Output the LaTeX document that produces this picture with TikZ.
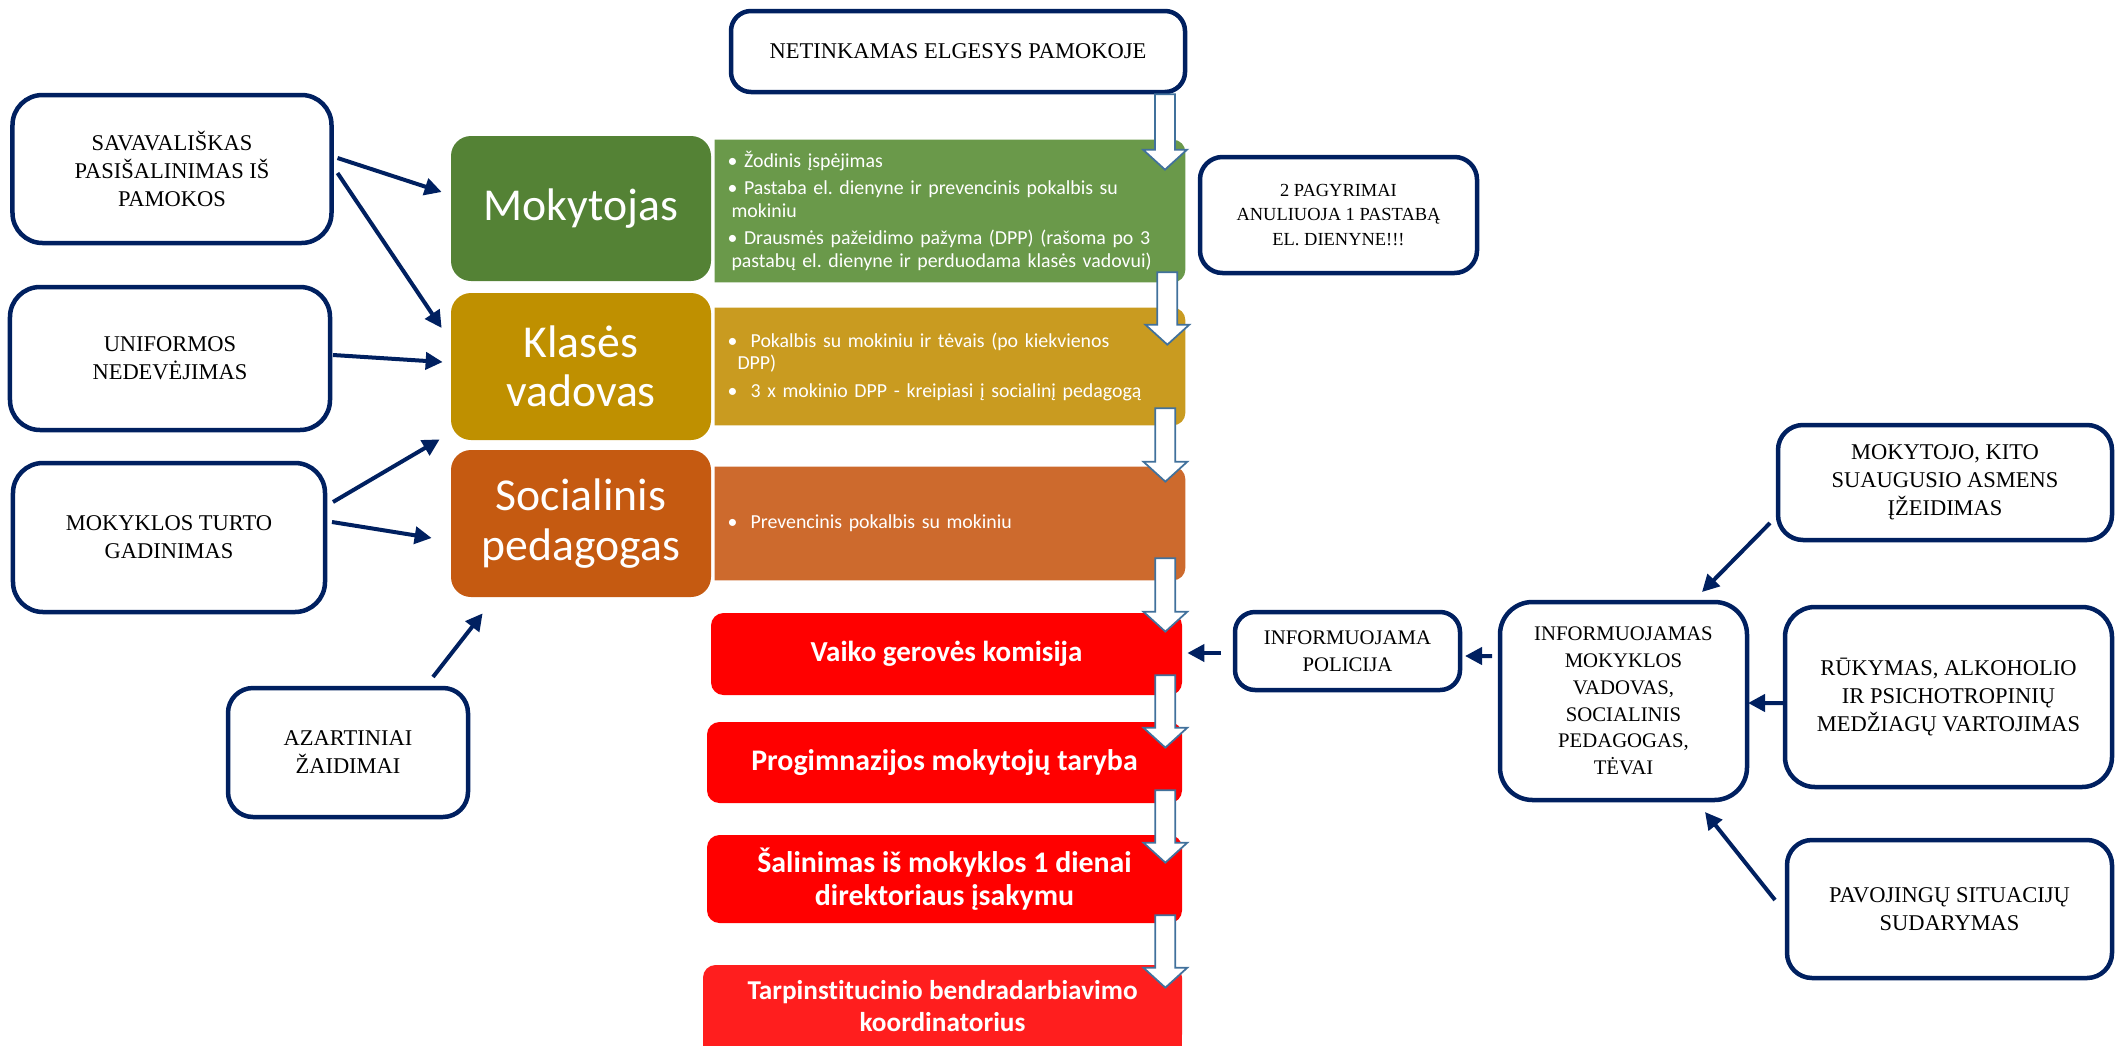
\documentclass[tikz,border=0pt]{standalone}
\usepackage{fontspec}
\setmainfont{Liberation Serif}
\newfontfamily\carlito[Ligatures=NoCommon]{Carlito}
\usetikzlibrary{calc,arrows.meta,backgrounds}
\definecolor{navy}{RGB}{0,32,96}
\definecolor{mokgreen}{RGB}{84,130,53}
\definecolor{mokpanel}{RGB}{106,153,74}
\definecolor{klasgold}{RGB}{191,144,0}
\definecolor{klaspanel}{RGB}{201,155,32}
\definecolor{socorange}{RGB}{197,90,17}
\definecolor{socpanel}{RGB}{205,106,45}
\definecolor{stepred}{RGB}{255,0,0}
\definecolor{lastred}{RGB}{255,30,30}
\definecolor{arrline}{RGB}{65,113,156}
\newcommand\rightpanel[2]{\fill[#2] (#1.north west) -- ([xshift=-2.5mm]#1.north east)
  arc[start angle=90,end angle=0,radius=2.5mm] -- ([yshift=2.5mm]#1.south east)
  arc[start angle=0,end angle=-90,radius=2.5mm] -- (#1.south west) -- cycle;}
\begin{document}
\begin{tikzpicture}[x=0.2mm,y=-0.2mm,
    navybox/.style={draw=navy,line width=0.9mm,rounded corners=5mm,fill=white,align=center,
      inner sep=1mm,font=\fontsize{12.8}{16}\selectfont},
    headbox/.style={rounded corners=4mm,text=white,align=center,minimum width=52mm,
      font=\carlito\fontsize{26}{28}\selectfont},
    panel/.style={text=white,align=left,text width=89mm,inner xsep=2.5mm,
      font=\carlito\frenchspacing\fontsize{11.3}{13}\selectfont},
    redbox/.style={rounded corners=2.5mm,text=white,align=center,
      font=\carlito\bfseries\fontsize{17}{19}\selectfont},
    hollow/.style={draw=arrline,fill=white,line width=0.35mm,
      to path={let \p1=(\tikztostart),\p2=(\tikztotarget) in
        (\x1-2mm,\y1) -- (\x1+2mm,\y1) -- (\x1+2mm,\y2+4mm) -- (\x1+4.4mm,\y2+4mm)
        -- (\x1,\y2) -- (\x1-4.4mm,\y2+4mm) -- (\x1-2mm,\y2+4mm) -- cycle}},
    link/.style={draw=navy,line width=0.8mm,-{Triangle[length=3.4mm,width=3.4mm]}}]
  \useasboundingbox (0,0) rectangle (2118,1046);
  \draw
    (172,169) node[navybox,minimum width=63.8mm,minimum height=29.6mm,rounded corners=6mm] (savav)
      {SAVAVALIŠKAS\\PASIŠALINIMAS IŠ\\PAMOKOS}
    (170,358.5) node[navybox,minimum width=64mm,minimum height=28.6mm,rounded corners=6mm] (unif)
      {UNIFORMOS\\NEDEVĖJIMAS}
    (169,537.5) node[navybox,minimum width=62.4mm,minimum height=29.8mm,rounded corners=6mm] (turto)
      {MOKYKLOS TURTO\\GADINIMAS}
    (348,752.5) node[navybox,minimum width=48mm,minimum height=25.8mm] (azart)
      {AZARTINIAI\\ŽAIDIMAI}
    (958,51.5) node[navybox,minimum width=90.8mm,minimum height=16.2mm,rounded corners=4mm] (netink)
      {NETINKAMAS ELGESYS PAMOKOJE}
    (1338.5,215) node[navybox,minimum width=55.4mm,minimum height=23.2mm,rounded corners=4.5mm,
      font=\fontsize{10.5}{13.7}\selectfont] (pagyr)
      {2 PAGYRIMAI\\ANULIUOJA 1 PASTABĄ\\EL. DIENYNE!!!}
    (1347.5,651) node[navybox,minimum width=45mm,minimum height=15.6mm,rounded corners=4mm,
      font=\fontsize{11.8}{15.2}\selectfont] (policija)
      {INFORMUOJAMA\\POLICIJA}
    (1623.5,701) node[navybox,minimum width=49.4mm,minimum height=39.6mm,rounded corners=6.5mm,
      font=\fontsize{11.8}{15.2}\selectfont] (inform)
      {INFORMUOJAMAS\\MOKYKLOS\\VADOVAS,\\SOCIALINIS\\PEDAGOGAS,\\TĖVAI}
    (1945,482.5) node[navybox,minimum width=66.8mm,minimum height=23mm] (izeid)
      {MOKYTOJO, KITO\\SUAUGUSIO ASMENS\\ĮŽEIDIMAS}
    (1948.5,697) node[navybox,minimum width=65.4mm,minimum height=36mm,rounded corners=6mm] (rukym)
      {RŪKYMAS, ALKOHOLIO\\IR PSICHOTROPINIŲ\\MEDŽIAGŲ VARTOJIMAS}
    (1949.5,909) node[navybox,minimum width=65mm,minimum height=27.6mm] (pavoj)
      {PAVOJINGŲ SITUACIJŲ\\SUDARYMAS}
    (581,208.5) node[headbox,fill=mokgreen,minimum height=29mm] (mok) {Mokytojas}
    (581,366.5) node[headbox,fill=klasgold,minimum height=29.4mm] (klas) {Klasės\\vadovas}
    (581,523.5) node[headbox,fill=socorange,minimum height=29.4mm] (soc) {Socialinis\\pedagogas}
    (950,211) node[panel,minimum height=28.4mm] (gcont)
      {\textbullet\ Žodinis įspėjimas\\[2.5pt]
       \mbox{\textbullet\ Pastaba el. dienyne ir prevencinis pokalbis su}\\
       \hspace*{0.8mm}mokiniu\\[2.5pt]
       \mbox{\textbullet\ Drausmės pažeidimo pažyma (DPP) (rašoma po 3}\\
       \mbox{\hspace*{0.8mm}pastabų el. dienyne ir perduodama klasės vadovui)}}
    (950,366.5) node[panel,minimum height=23.4mm] (ycont)
      {\mbox{\textbullet\ \ Pokalbis su mokiniu ir tėvais (po kiekvienos}\\
       \hspace*{2mm}DPP)\\[2.5pt]
       \mbox{\textbullet\ \ 3 x mokinio DPP - kreipiasi į socialinį pedagogą}}
    (950,523.5) node[panel,minimum height=22.6mm] (ocont)
      {\textbullet\ \ Prevencinis pokalbis su mokiniu}
    (946.5,654) node[redbox,fill=stepred,minimum width=94.2mm,minimum height=16.4mm,
      font=\carlito\bfseries\fontsize{16.5}{19}\selectfont] (vaiko)
      {Vaiko gerovės komisija}
    (944.5,762.5) node[redbox,fill=stepred,minimum width=95mm,minimum height=16.2mm] (progim)
      {Progimnazijos mokytojų taryba}
    (944.5,879) node[redbox,fill=stepred,minimum width=95mm,minimum height=17.6mm] (salin)
      {Šalinimas iš mokyklos 1 dienai\\direktoriaus įsakymu}
    (942.5,1006) node[redbox,fill=lastred,minimum width=95.8mm,minimum height=16.4mm,
      font=\carlito\bfseries\fontsize{15.5}{18.5}\selectfont] (tarp)
      {Tarpinstitucinio bendradarbiavimo\\koordinatorius};
  \begin{scope}[on background layer]
    \rightpanel{gcont}{mokpanel}
    \rightpanel{ycont}{klaspanel}
    \rightpanel{ocont}{socpanel}
    \fill[lastred] ([yshift=3mm]tarp.south west) rectangle ([yshift=-3mm]tarp.south east);
  \end{scope}
  \draw[hollow] ([xshift=-4.45mm]netink.south east) to ([xshift=-4mm,yshift=-6mm]gcont.north east);
  \draw[hollow] ([xshift=-3.6mm,yshift=2mm]gcont.south east) to ([xshift=-3.6mm,yshift=-7.4mm]ycont.north east);
  \draw[hollow] ([xshift=-4mm,yshift=3.4mm]ycont.south east) to ([xshift=-4mm,yshift=-3mm]ocont.north east);
  \draw[hollow] ([xshift=-4mm,yshift=4.4mm]ocont.south east) to ([xshift=-3.4mm,yshift=-3.8mm]vaiko.north east);
  \draw[hollow] ([xshift=-3.4mm,yshift=4mm]vaiko.south east) to ([xshift=-3.4mm,yshift=-5.2mm]progim.north east);
  \draw[hollow] ([xshift=-3.4mm,yshift=2.6mm]progim.south east) to ([xshift=-3.4mm,yshift=-5.6mm]salin.north east);
  \draw[hollow] ([xshift=-3.4mm,yshift=1.6mm]salin.south east) to ([xshift=-3.4mm,yshift=-4.6mm]tarp.north east);
  \begin{scope}[link]
    \draw ([xshift=0.75mm,yshift=2.2mm]savav.east) to ([xshift=-1.8mm,yshift=3.3mm]mok.west);
    \draw ([xshift=0.75mm,yshift=-0.8mm]savav.east) to ([xshift=-1.8mm,yshift=7.7mm]klas.west);
    \draw ([xshift=0.15mm,yshift=0.7mm]unif.east) to ([xshift=-1.6mm,yshift=0.9mm]klas.west);
    \draw ([xshift=1.15mm,yshift=7.1mm]turto.east) to ([xshift=-2.2mm,yshift=0.2mm]klas.south west);
    \draw ([xshift=0.95mm,yshift=3.1mm]turto.east) to ([xshift=-3.8mm,yshift=-2.9mm]soc.west);
    \draw ([xshift=-7.45mm,yshift=1.75mm]azart.north east) to ([xshift=6.4mm,yshift=-3.2mm]soc.south west);
    \draw ([xshift=-1.15mm,yshift=9mm]inform.west) to ([xshift=0.55mm,yshift=-1mm]policija.east);
    \draw ([xshift=-2.35mm,yshift=-0.4mm]policija.west) to ([xshift=1mm,yshift=0.2mm]vaiko.east);
    \draw ([xshift=-1.15mm,yshift=3.85mm]izeid.south west) to ([xshift=15.7mm,yshift=1.55mm]inform.north);
    \draw ([xshift=0.45mm,yshift=-1.2mm]rukym.west) to ([xshift=-0.25mm,yshift=-0.4mm]inform.east);
    \draw ([xshift=-1.95mm,yshift=1.8mm]pavoj.west) to ([xshift=16.3mm,yshift=-1.95mm]inform.south);
  \end{scope}
\end{tikzpicture}
\end{document}
